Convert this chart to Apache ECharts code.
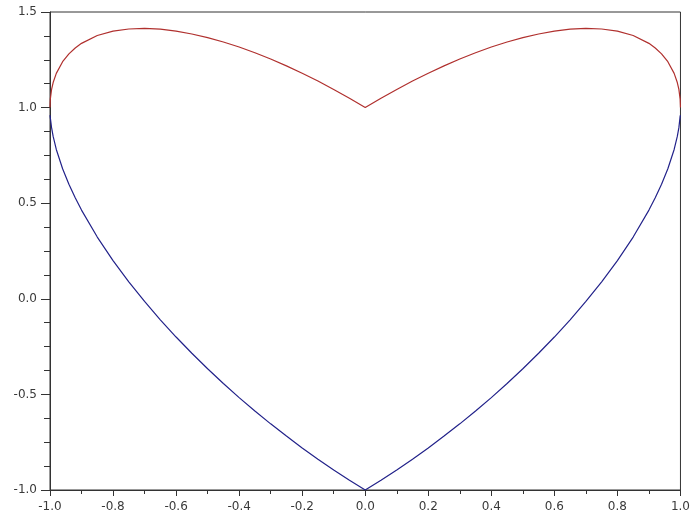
<!DOCTYPE html>
<html><head><meta charset="utf-8">
<script src="https://cdn.jsdelivr.net/npm/echarts@6/dist/echarts.min.js"></script>
<style>html,body{margin:0;padding:0;background:#fff}#c{width:693px;height:516px}</style>
</head><body><div id="c"></div>
<script>
var xs = [-1, -0.999, -0.995, -0.99, -0.98, -0.96, -0.94, -0.92, -0.9, -0.85, -0.8, -0.75, -0.7, -0.65, -0.6, -0.55, -0.5, -0.45, -0.4, -0.35, -0.3, -0.25, -0.2, -0.15, -0.1, -0.05, 0,
          0.05, 0.1, 0.15, 0.2, 0.25, 0.3, 0.35, 0.4, 0.45, 0.5, 0.55, 0.6, 0.65, 0.7, 0.75, 0.8, 0.85, 0.9, 0.92, 0.94, 0.96, 0.98, 0.99, 0.995, 0.999, 1];
var topY = [1.0, 1.044, 1.095, 1.131, 1.179, 1.24, 1.281, 1.312, 1.336, 1.377, 1.4, 1.411, 1.414, 1.41, 1.4, 1.385, 1.366, 1.343, 1.317, 1.287, 1.254, 1.218, 1.18, 1.139, 1.095, 1.049, 1.0,
            1.049, 1.095, 1.139, 1.18, 1.218, 1.254, 1.287, 1.317, 1.343, 1.366, 1.385, 1.4, 1.41, 1.414, 1.411, 1.4, 1.377, 1.336, 1.312, 1.281, 1.24, 1.179, 1.131, 1.095, 1.044, 1.0];
var bottomY = [0.96, 0.954, 0.895, 0.849, 0.781, 0.68, 0.599, 0.528, 0.464, 0.323, 0.2, 0.089, -0.014, -0.11, -0.2, -0.285, -0.366, -0.443, -0.517, -0.587, -0.654, -0.718, -0.78, -0.839, -0.895, -0.949, -1.0,
               -0.949, -0.895, -0.839, -0.78, -0.718, -0.654, -0.587, -0.517, -0.443, -0.366, -0.285, -0.2, -0.11, -0.014, 0.089, 0.2, 0.323, 0.464, 0.528, 0.599, 0.68, 0.781, 0.849, 0.895, 0.954, 0.96];

function pairs(ys){ return xs.map(function(x,i){ return [x, ys[i]]; }); }

var chart = echarts.init(document.getElementById('c'), null, {renderer:'canvas'});
var labelStyle = {color:'#3a3a3a', fontFamily:'DejaVu Sans, sans-serif', fontSize:12};
chart.setOption({
  animation:false,
  backgroundColor:'#fff',
  grid:{left:50, right:10, top:12, bottom:26, show:true, borderColor:'#333', borderWidth:1, backgroundColor:'transparent'},
  xAxis:{type:'value', min:-1, max:1, interval:0.2,
    axisLine:{show:true, onZero:false, lineStyle:{color:'#333', width:1}},
    axisTick:{show:true, inside:false, length:6, lineStyle:{color:'#333'}},
    minorTick:{show:true, splitNumber:2, length:4, lineStyle:{color:'#333'}},
    splitLine:{show:false},
    axisLabel:Object.assign({margin:11, formatter:function(v){return v.toFixed(1);}}, labelStyle)},
  yAxis:{type:'value', min:-1, max:1.5, interval:0.5,
    axisLine:{show:true, onZero:false, lineStyle:{color:'#333', width:1}},
    axisTick:{show:true, inside:false, length:9, lineStyle:{color:'#333'}},
    minorTick:{show:true, splitNumber:4, length:6, lineStyle:{color:'#333'}},
    splitLine:{show:false},
    axisLabel:Object.assign({margin:13, formatter:function(v){return v.toFixed(1);}}, labelStyle)},
  series:[
    {type:'line', data:pairs(topY), showSymbol:false, smooth:false, lineStyle:{color:'#b0302e', width:1.2}},
    {type:'line', data:pairs(bottomY), showSymbol:false, smooth:false, lineStyle:{color:'#22228a', width:1.2}}
  ]
});
</script></body></html>
